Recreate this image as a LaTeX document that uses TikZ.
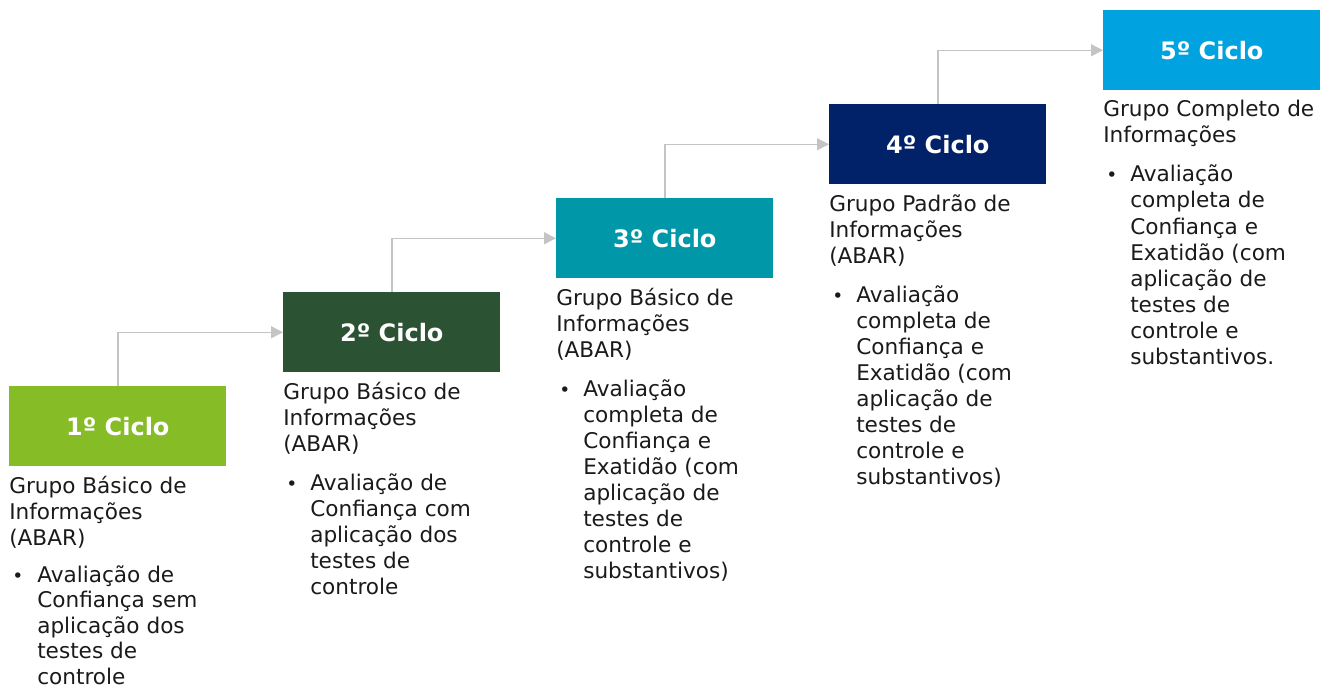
\documentclass[tikz,border=0pt]{standalone}
\usepackage{fontspec}
\setmainfont{DejaVu Sans}
\usetikzlibrary{arrows.meta}
\definecolor{cA}{HTML}{86BC25}
\definecolor{cB}{HTML}{2C5234}
\definecolor{cC}{HTML}{0097A9}
\definecolor{cD}{HTML}{012169}
\definecolor{cE}{HTML}{00A3E0}
\definecolor{arrowgray}{HTML}{C4C4C4}
\definecolor{bodytext}{HTML}{1A1A1A}
\newcommand\txtlines[5]{%
  \foreach \t [count=\i] in {#5}
    \node[bodyline] (#1-\i) at (#2, #3+#4*\i-#4) {\t};}
\begin{document}
\begin{tikzpicture}[x=0.75pt,y=-0.75pt,
  cyclebox/.style={fill=#1, draw=none, minimum width=162.75pt, minimum height=60pt,
    inner sep=0pt, anchor=north west, text=white, font=\fontsize{18}{21}\bfseries},
  bodyline/.style={anchor=base west, inner sep=0pt, text=bodytext, font=\fontsize{16.2}{19.5}\selectfont},
  bulletmark/.style={anchor=base west, inner sep=0pt, text=bodytext, font=\fontsize{14}{16}\selectfont},
  flow/.style={draw=arrowgray, line width=1.1pt, -{Triangle[length=9pt,width=9pt]}}
]
\useasboundingbox (0,0) rectangle (1324,688);

% boxes
\node[cyclebox=cA] (b1) at (9,386)   {1º Ciclo};
\node[cyclebox=cB] (b2) at (283,292) {2º Ciclo};
\node[cyclebox=cC] (b3) at (556,198) {3º Ciclo};
\node[cyclebox=cD] (b4) at (829,104) {4º Ciclo};
\node[cyclebox=cE] (b5) at (1103,10) {5º Ciclo};

% connectors
\draw[flow] (b1.north) |- (b2.west);
\draw[flow] (b2.north) |- (b3.west);
\draw[flow] (b3.north) |- (b4.west);
\draw[flow] (b4.north) |- (b5.west);

% cycle 1
\txtlines{h1}{9}{493}{26}{{Grupo Básico de},{Informações},{(ABAR)}}
\node[bulletmark] (p1) at (12,582) {•};
\txtlines{s1}{37}{582}{25.5}{{Avaliação de},{Confiança sem},{aplicação dos},{testes de},{controle}}

% cycle 2
\txtlines{h2}{283}{399}{26}{{Grupo Básico de},{Informações},{(ABAR)}}
\node[bulletmark] (p2) at (286,490) {•};
\txtlines{s2}{310}{490}{26}{{Avaliação de},{Confiança com},{aplicação dos},{testes de},{controle}}

% cycle 3
\txtlines{h3}{556}{305}{26}{{Grupo Básico de},{Informações},{(ABAR)}}
\node[bulletmark] (p3) at (559,396) {•};
\txtlines{s3}{583}{396}{26}{{Avaliação},{completa de},{Confiança e},{Exatidão (com},{aplicação de},{testes de},{controle e},{substantivos)}}

% cycle 4
\txtlines{h4}{829}{211}{26}{{Grupo Padrão de},{Informações},{(ABAR)}}
\node[bulletmark] (p4) at (832,302) {•};
\txtlines{s4}{856}{302}{26}{{Avaliação},{completa de},{Confiança e},{Exatidão (com},{aplicação de},{testes de},{controle e},{substantivos)}}

% cycle 5
\txtlines{h5}{1103}{117}{26}{{Grupo Completo de},{Informações}}
\node[bulletmark] (p5) at (1106,182) {•};
\txtlines{s5}{1130}{182}{26}{{Avaliação},{completa de},{Confiança e},{Exatidão (com},{aplicação de},{testes de},{controle e},{substantivos.}}
\end{tikzpicture}
\end{document}
